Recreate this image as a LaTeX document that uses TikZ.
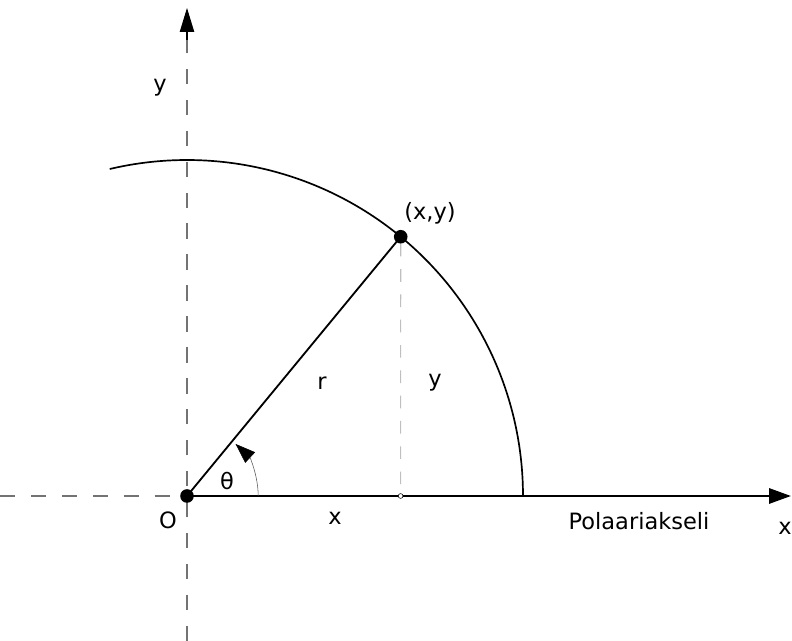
\documentclass[tikz,border=0pt]{standalone}
\usepackage{fontspec}
\setmainfont{DejaVu Sans}
\usetikzlibrary{arrows.meta, backgrounds}

\begin{document}
\begin{tikzpicture}[
  font=\fontsize{16}{19}\selectfont,
  axis/.style={gray!90!black, thick, dash pattern=on 11pt off 11pt},
  polar/.style={line width=1.8pt, -{Triangle[length=0.55cm, width=0.38cm]}},
  dot/.style={circle, fill=black, inner sep=0pt, minimum size=0.34cm},
]
  \useasboundingbox (-4.675,-3.625) rectangle (15.125,12.4);
  % points
  \node[dot] (O) at (0,0) {};
  \node[dot] (P) at (50.5:8.4) {};
  \node[circle, draw, fill=white, inner sep=0pt, minimum size=0.12cm] (F) at (5.34,0) {};
  \coordinate (ytop) at (0,12.2);
  \coordinate (ybot) at (0,-3.625);
  \coordinate (xleft) at (-4.675,0);
  \coordinate (xtip) at (15.1,0);
  \begin{scope}[on background layer]
    % axes
    \draw[axis] (ybot) -- (0,11.4);
    \draw[thick, -{Triangle[length=0.6cm, width=0.36cm]}] (0,11.4) -- (ytop);
    \draw[axis] (xleft) -- (O.center);
    \draw[polar] (O.center) -- (xtip);
    % circle and radius
    \draw[line width=1.2pt] (8.4,0) arc[start angle=0, end angle=103.3, radius=8.4];
    \draw[line width=1.3pt] (O.center) -- (P.center);
    \draw[gray!50, thick, dash pattern=on 9pt off 9pt] (P) -- (F);
    % angle
    \draw[gray!70!black, -{Triangle[length=0.5cm, width=0.36cm, black]}] (1.78,0) arc[start angle=0, end angle=47, radius=1.78];
  \end{scope}
  % labels
  \node (ylbl) at (-0.675,10.2) {y};
  \node (plbl) at (6.075,7.075) {(x,y)};
  \node (rlbl) at (3.375,2.825) {r};
  \node (ylbl2) at (6.2,2.825) {y};
  \node (tlbl) at (1.0,0.375) {θ};
  \node (olbl) at (-0.475,-0.6) {O};
  \node (xlbl) at (3.7,-0.55) {x};
  \node (axlbl) at (11.3,-0.625) {Polaariakseli};
  \node (xlbl2) at (14.95,-0.8) {x};
\end{tikzpicture}
\end{document}
